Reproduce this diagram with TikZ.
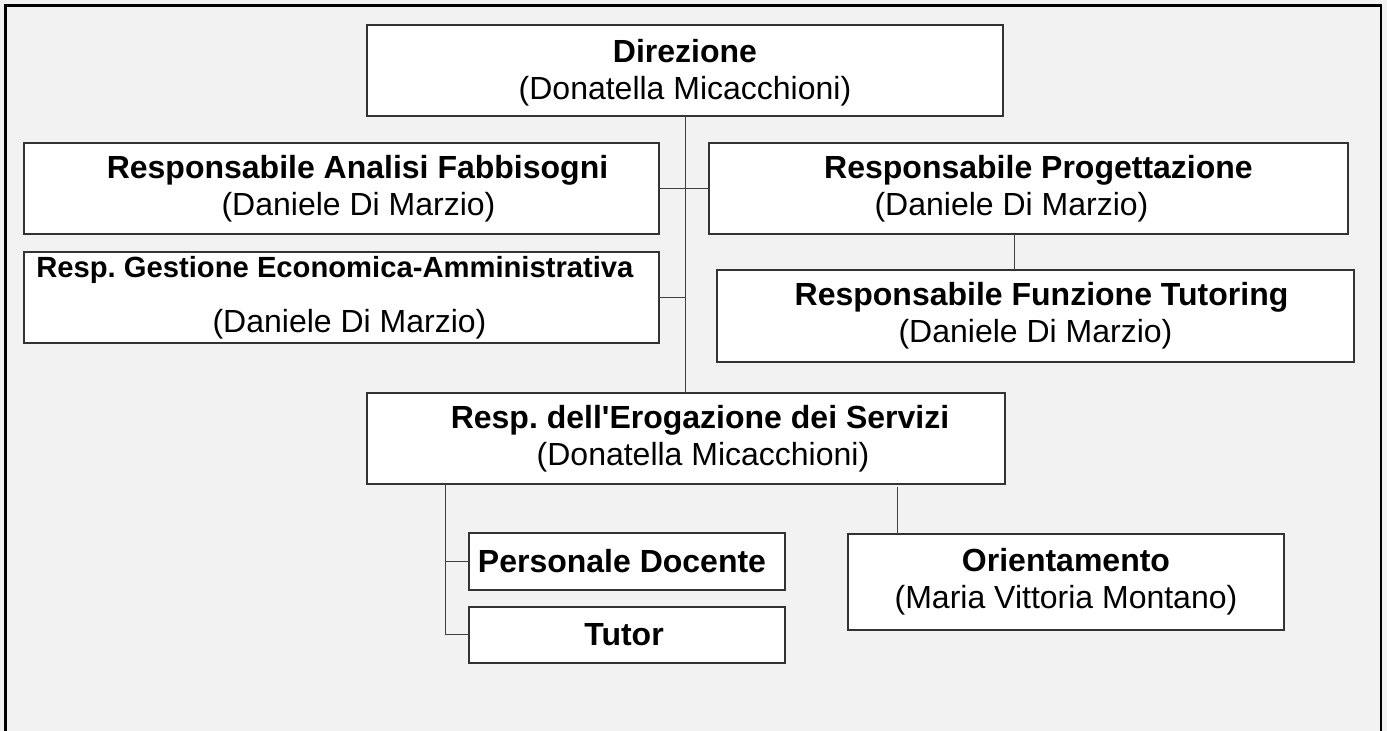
\documentclass[tikz,border=0pt]{standalone}
\usepackage{fontspec}
\setmainfont{Liberation Sans}
\usetikzlibrary{positioning}
\frenchspacing

\begin{document}
\begin{tikzpicture}[
  x=0.5pt, y=-0.5pt,
  unit/.style={
    rectangle, draw=black!80, line width=0.7pt,
    fill=white, align=center,
    inner sep=0pt, outer sep=0pt,
    font=\fontsize{16}{18.4}\selectfont,
    minimum width=318pt, minimum height=45.5pt
  },
  small/.style={
    unit, minimum width=158pt, minimum height=28.5pt
  },
  link/.style={draw=black!75, line width=0.5pt}
]

% =====================================================
% PAGE
% =====================================================

\fill[gray!10] (0,0) rectangle (1387,731);
\useasboundingbox (0,0) rectangle (1387,731);
\draw[line width=1.1pt] (5.5,735) -- (5.5,5.5) -- (1381,5.5) -- (1381,735);

% =====================================================
% TOP
% =====================================================

\node[unit] (dir) at (685,70.5)
{\rule{0pt}{14pt}\textbf{Direzione}\\
(Donatella Micacchioni)};

\node[unit, minimum width=317.5pt] (raf) at (341.5,188.5)
{\hspace*{16pt}\textbf{Responsabile Analisi Fabbisogni}\\
\hspace*{17pt}(Daniele Di Marzio)};

\node[unit, minimum width=319.5pt, right=25pt of raf] (rp)
{\hspace*{10pt}\textbf{Responsabile Progettazione}\\
(Daniele Di Marzio)\hspace*{17pt}};

\node[unit, minimum width=317.5pt, below=9pt of raf] (rgea)
{\fontsize{14.6}{16}\selectfont\textbf{Resp. Gestione Economica-Amministrativa}\hspace*{6.5pt}\\[9pt]
\hspace*{8pt}(Daniele Di Marzio)};

\node[unit, minimum width=318.5pt, minimum height=46pt] (rft) at (1035.5,316)
{\hspace*{6pt}\textbf{Responsabile Funzione Tutoring}\\
(Daniele Di Marzio)};

\draw[link] (dir.south) -- (dir.south |- raf.east);
\draw[link] (raf.east) -- (rp.west);
\draw[link] (rgea.east) -- (rgea.east -| dir.south);
\draw[link] ([xshift=-7.25pt]rp.south) -- ([xshift=-7.25pt]rp.south |- rft.north);

% =====================================================
% SERVICES
% =====================================================

\node[unit, minimum width=319pt] (res) at (686,438.5)
{\hspace*{14pt}\textbf{Resp. dell\textquotesingle Erogazione dei Servizi}\\
\hspace*{17pt}(Donatella Micacchioni)};

\draw[link] (dir.south |- raf.east) -- (dir.south |- res.north);

\node[small] (pd) at (627,561.5)
{\textbf{Personale Docente}\hspace*{5pt}};

\node[small, minimum height=28pt, below=8.5pt of pd] (tutor)
{\textbf{Tutor}\hspace*{3pt}};

\node[unit, minimum width=218pt, minimum height=48pt] (ori) at (1066,582)
{\textbf{Orientamento}\\
(Maria Vittoria Montano)};

\draw[link] ([xshift=-120.5pt]res.south) |- (tutor.west);
\draw[link] ([xshift=-120.5pt]res.south |- pd.west) -- (pd.west);
\draw[link] ([xshift=-84.5pt]ori.north) -- ([xshift=-84.5pt,yshift=-1.5pt]ori.north |- res.south);

\end{tikzpicture}
\end{document}
